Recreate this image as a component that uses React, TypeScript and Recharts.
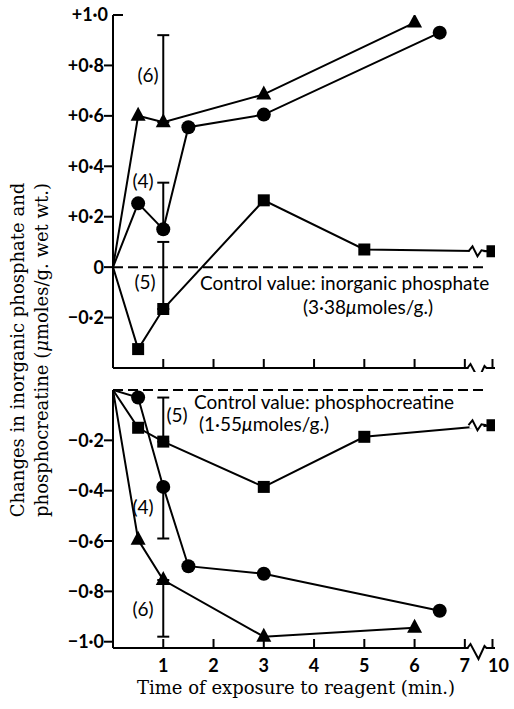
import React from "react";
import { LineChart, Line, XAxis, YAxis, ReferenceLine, ErrorBar } from "recharts";

// sampling times (min.) for each symbol
const timesTri = [0, 0.5, 1, 3, 6];
const timesCirc = [0, 0.5, 1, 1.5, 3, 6.5];
const timesSq = [0, 0.5, 1, 3, 5, 10];

// change in inorganic phosphate (umoles/g. wet wt.)
const piTri = [0, 0.6, 0.575, 0.685, 0.97];
const piCirc = [0, 0.253, 0.15, 0.555, 0.605, 0.93];
const piSq = [0, -0.325, -0.166, 0.265, 0.07, 0.063];

// change in phosphocreatine
const pcTri = [0, -0.595, -0.755, -0.98, -0.945];
const pcCirc = [0, -0.03, -0.385, -0.7, -0.73, -0.877];
const pcSq = [0, -0.15, -0.205, -0.385, -0.186, -0.14];

// error bars at 1 min, [below, above]
const piTriErr = [0, 0.345];
const piCircErr = [0, 0.185];
const piSqErr = [0, 0.266];
const pcTriErr = [0.225, 0];
const pcCircErr = [0.205, 0];
const pcSqErr = [0, 0.175];

const timeTicks = [1, 2, 3, 4, 5, 6, 7, 10];
const piTicks = [-0.2, 0, 0.2, 0.4, 0.6, 0.8, 1.0];
const pcTicks = [-0.2, -0.4, -0.6, -0.8, -1.0];

const BREAK_POS = 7.55; // x position of "10" after the axis break
const pos = (t: number) => (t > 7 ? BREAK_POS : t);

const SANS = "Lato, 'Open Sans', sans-serif";
const SERIF = "'DejaVu Serif', serif";

function rows(times: number[], vals: number[], err: number[]) {
  return times.map((t, i) => ({ t, x: pos(t), y: vals[i], e: t === 1 ? err : undefined }));
}

const fmt = (v: number) => {
  if (Math.abs(v) < 1e-9) return "0";
  return (v > 0 ? "+" : "\u2212") + Math.abs(v).toFixed(1).replace(".", "\u00b7");
};

function XTick(props: any) {
  const { x, y, payload, showLabel } = props;
  const isBreak = payload.value > 7;
  return (
    <g>
      <line x1={x} x2={x} y1={y} y2={y - 9} stroke="#000" strokeWidth={2} />
      {isBreak && (
        <g>
          <rect x={x - 24} y={y - 3} width={18} height={6} fill="#fff" />
          <path
            d={`M${x - 25},${y} L${x - 22},${y - 4} L${x - 14},${y + 11} L${x - 8},${y - 2} L${x - 6},${y} L${x},${y}`}
            fill="none"
            stroke="#000"
            strokeWidth={2}
          />
        </g>
      )}
      {showLabel && (
        <text x={isBreak ? x + 6 : x} y={y + 24} textAnchor="middle" fontFamily={SANS} fontWeight={700} fontSize={18} fill="#000">
          {isBreak ? "10" : payload.value}
        </text>
      )}
    </g>
  );
}

function YTick(props: any) {
  const { x, y, payload, cap } = props;
  const v = payload.value;
  const isCap = cap !== undefined && Math.abs(v - cap) < 1e-9;
  return (
    <g>
      <line x1={isCap ? x : x - 9} x2={isCap ? x + 10 : x} y1={y} y2={y} stroke="#000" strokeWidth={2} />
      <text x={isCap ? x - 5 : x - 9} y={y} dy="0.36em" textAnchor="end" fontFamily={SANS} fontWeight={700} fontSize={18} fill="#000">
        {fmt(v)}
      </text>
    </g>
  );
}

function Mark(props: any) {
  const { cx, cy, t, shape } = props;
  if (t === 0 || cx == null) return <g />;
  if (shape === "circ") return <circle cx={cx} cy={cy} r={7} fill="#000" />;
  if (shape === "tri")
    return <path d={`M${cx},${cy - 9} L${cx + 7.5},${cy + 5} L${cx - 7.5},${cy + 5} Z`} fill="#000" />;
  return (
    <g>
      {t > 7 && (
        <g>
          <rect x={cx - 23} y={cy - 3} width={14} height={6} fill="#fff" />
          <path
            d={`M${cx - 24},${cy} L${cx - 20},${cy - 5} L${cx - 15},${cy + 5} L${cx - 11},${cy - 1} L${cx - 6},${cy}`}
            fill="none"
            stroke="#000"
            strokeWidth={2}
          />
        </g>
      )}
      <rect x={cx - 6} y={cy - 6} width={12} height={12} fill="#000" />
    </g>
  );
}

const dotFor = (shape: string) => (p: any) =>
  <Mark key={`${shape}-${p.index}`} cx={p.cx} cy={p.cy} t={p.payload?.t} shape={shape} />;

const axisStyle = { stroke: "#000", strokeWidth: 2 };

function Panel(props: {
  top: number;
  height: number;
  xHeight: number;
  domain: [number, number];
  ticks: number[];
  cap?: number;
  showLabels: boolean;
  tri: any[];
  circ: any[];
  sq: any[];
}) {
  const { top, height, xHeight, domain, ticks, cap, showLabels, tri, circ, sq } = props;
  const lines: [string, any[]][] = [
    ["tri", tri],
    ["circ", circ],
    ["sq", sq],
  ];
  return (
    <LineChart
      width={514}
      height={height}
      margin={{ top: 15, right: 19, bottom: 0, left: 0 }}
      style={{ position: "absolute", left: 0, top }}
    >
      <XAxis
        type="number"
        dataKey="x"
        domain={[0, 7.6]}
        ticks={timeTicks.map(pos)}
        interval={0}
        height={xHeight}
        tickSize={0}
        tickMargin={0}
        tickLine={false}
        axisLine={axisStyle}
        allowDataOverflow
        tick={(p: any) => <XTick {...p} showLabel={showLabels} />}
      />
      <YAxis
        type="number"
        domain={domain}
        ticks={ticks}
        interval={0}
        width={113}
        tickSize={0}
        tickMargin={0}
        tickLine={false}
        axisLine={axisStyle}
        allowDataOverflow
        tick={(p: any) => <YTick {...p} cap={cap} />}
      />
      <ReferenceLine
        segment={[
          { x: 0, y: 0 },
          { x: 7.45, y: 0 },
        ]}
        stroke="#000"
        strokeWidth={2}
        strokeDasharray="10 5"
      />
      {lines.map(([shape, data]) => (
        <Line
          key={shape}
          data={data}
          dataKey="y"
          type="linear"
          stroke="#000"
          strokeWidth={2}
          dot={dotFor(shape)}
          activeDot={false}
          isAnimationActive={false}
        >
          <ErrorBar dataKey="e" direction="y" width={6} stroke="#000" strokeWidth={2} />
        </Line>
      ))}
    </LineChart>
  );
}

export default function App() {
  const t = { fontFamily: SANS, fontSize: 19, fill: "#000" };
  const s = { fontFamily: SERIF, fontSize: 18, fill: "#000" };
  return (
    <div style={{ position: "absolute", left: 0, top: 0, width: 514, height: 709, background: "#fff" }}>
      <Panel
        top={0}
        height={372}
        xHeight={4}
        domain={[-0.4, 1]}
        ticks={piTicks}
        cap={1}
        showLabels={false}
        tri={rows(timesTri, piTri, piTriErr)}
        circ={rows(timesCirc, piCirc, piCircErr)}
        sq={rows(timesSq, piSq, piSqErr)}
      />
      <Panel
        top={375}
        height={300}
        xHeight={27}
        domain={[-1.025, 0]}
        ticks={pcTicks}
        showLabels={true}
        tri={rows(timesTri, pcTri, pcTriErr)}
        circ={rows(timesCirc, pcCirc, pcCircErr)}
        sq={rows(timesSq, pcSq, pcSqErr)}
      />
      <svg width={514} height={709} style={{ position: "absolute", left: 0, top: 0, pointerEvents: "none" }}>
        <text transform="translate(24,350) rotate(-90)" textAnchor="middle" {...s}>
          Changes in inorganic phosphate and
        </text>
        <text transform="translate(48,350) rotate(-90)" textAnchor="middle" {...s}>
          phosphocreatine (<tspan fontStyle="italic">μ</tspan>moles/g. wet wt.)
        </text>
        <text x={296} y={694} textAnchor="middle" {...s}>
          Time of exposure to reagent (min.)
        </text>

        <text x={200} y={290} {...t}>Control value: inorganic phosphate</text>
        <text x={368} y={314} textAnchor="middle" {...t}>
          (3·38<tspan fontStyle="italic">μ</tspan>moles/g.)
        </text>
        <text x={194} y={409} {...t}>Control value: phosphocreatine</text>
        <text x={199} y={431} {...t}>
          (1·55<tspan fontStyle="italic">μ</tspan>moles/g.)
        </text>

        <text x={148} y={82} textAnchor="middle" {...t}>(6)</text>
        <text x={143} y={188} textAnchor="middle" {...t}>(4)</text>
        <text x={145} y={289} textAnchor="middle" {...t}>(5)</text>
        <text x={177} y={422} textAnchor="middle" {...t}>(5)</text>
        <text x={143} y={514} textAnchor="middle" {...t}>(4)</text>
        <text x={143} y={616} textAnchor="middle" {...t}>(6)</text>
      </svg>
    </div>
  );
}
